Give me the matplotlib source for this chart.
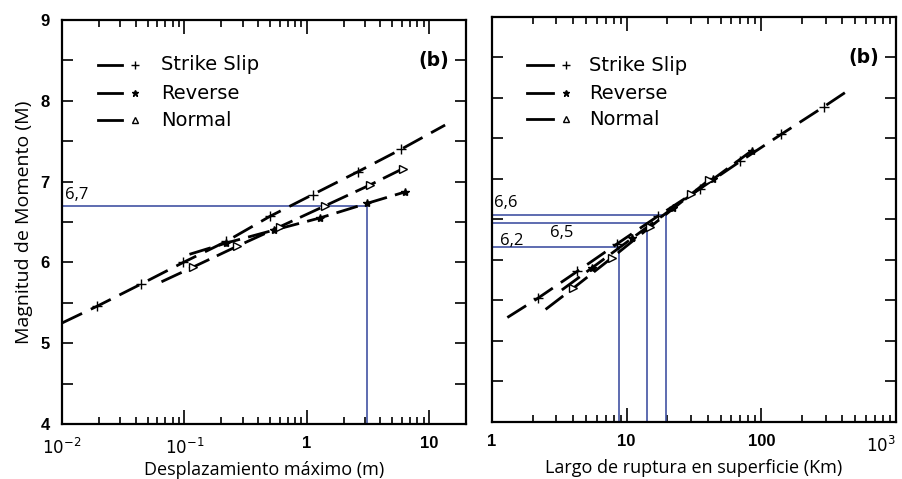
import matplotlib
matplotlib.use("Agg")
import matplotlib.pyplot as plt
from matplotlib.ticker import LogLocator, NullFormatter, FixedLocator

# --- left panel: maximum displacement (m) vs magnitude
md_ss_x = [0.01, 0.0195, 0.044, 0.098, 0.22, 0.5, 1.12, 2.6, 5.9, 13.5]
md_ss_m = [5.25, 5.46, 5.73, 6.0, 6.26, 6.57, 6.84, 7.12, 7.40, 7.70]
md_rv_x = [0.11, 0.22, 0.54, 1.28, 3.1, 6.3]
md_rv_m = [6.10, 6.24, 6.40, 6.55, 6.73, 6.87]
md_nm_x = [0.065, 0.117, 0.27, 0.60, 1.41, 3.3, 6.1]
md_nm_m = [5.76, 5.94, 6.20, 6.44, 6.70, 6.96, 7.16]

# --- right panel: surface rupture length (km) vs magnitude
srl_ss_x = [1.3, 2.2, 4.3, 8.5, 17, 35, 70, 140, 290, 430]
srl_ss_m = [5.29, 5.53, 5.86, 6.20, 6.54, 6.88, 7.22, 7.55, 7.89, 8.08]
srl_rv_x = [3.3, 5.5, 11, 22, 44, 85]
srl_rv_m = [5.63, 5.90, 6.27, 6.64, 7.0, 7.35]
srl_nm_x = [2.5, 4.0, 7.8, 15, 30, 41]
srl_nm_m = [5.39, 5.65, 6.03, 6.41, 6.81, 6.99]

# blue reading lines
left_read_x, left_read_m, left_read_lbl = [3.1], [6.7], ["6,7"]
right_read_x = [19.6, 14.1, 8.8]
right_read_m = [6.55, 6.46, 6.16]
right_read_lbl = ["6,6", "6,5", "6,2"]

legend_names = ["Strike Slip", "Reverse", "Normal"]
left_xticks = [0.01, 0.1, 1, 10]
left_xlabels = [r"$10^{-2}$", r"$10^{-1}$", "1", "10"]
right_xticks = [1, 10, 100, 1000]
right_xlabels = ["1", "10", "100", r"$10^3$"]

BLUE = "#4253a3"
TICKFONT = dict(family="Liberation Sans", weight="bold", size=12)

fig = plt.figure(figsize=(9.02, 4.79), dpi=100)
ax1 = fig.add_axes([62 / 902, 1 - 424 / 479, (466 - 62) / 902, (424 - 20) / 479])
ax2 = fig.add_axes([492 / 902, 1 - 422 / 479, (896 - 492) / 902, (422 - 17) / 479])


def style_axis(ax, xlim, xt, xl, show_y):
    ax.set_xscale("log")
    ax.set_xlim(*xlim)
    ax.set_ylim(4, 9)
    for s in ax.spines.values():
        s.set_linewidth(1.6)
    ax.xaxis.set_major_locator(FixedLocator(xt))
    ax.set_xticklabels(xl, fontdict=TICKFONT)
    ax.xaxis.set_minor_locator(LogLocator(base=10, subs=range(2, 10)))
    ax.xaxis.set_minor_formatter(NullFormatter())
    ax.set_yticks([4, 5, 6, 7, 8, 9])
    ax.set_yticks([4.5, 5.5, 6.5, 7.5, 8.5], minor=True)
    if show_y:
        ax.set_yticklabels(["4", "5", "6", "7", "8", "9"], fontdict=TICKFONT)
    else:
        ax.set_yticklabels([])
    ax.tick_params(which="both", direction="in", top=True, right=True, width=1.2)
    ax.tick_params(axis="x", which="major", length=10, pad=9)
    ax.tick_params(axis="x", which="minor", length=5)
    ax.tick_params(axis="y", which="both", length=8, pad=9)
    ax.text(0.92, 0.9, "(b)", transform=ax.transAxes, fontsize=13.5,
            fontweight="bold", ha="center", va="center")


def draw_series(ax, x, m, marker, ms, dash):
    ax.plot(x, m, color="black", lw=2.0, dashes=dash, zorder=3)
    ax.plot(x[1:-1] if marker == "+" else x[1:], m[1:-1] if marker == "+" else m[1:],
            ls="none", marker=marker, ms=ms, mfc="white" if marker == ">" else "black",
            mec="black", mew=1.0, zorder=4)


def draw_legend(ax, x0, x1, xm, xt, ys):
    for name, y, mk, ms in zip(legend_names, ys, ["+", "*", "^"], [6, 5, 5]):
        ax.plot([x0, x1], [y, y], color="black", lw=2.0, transform=ax.transAxes)
        ax.plot([xm], [y], marker=mk, ms=ms, color="black", mfc="white" if mk == "^" else "black",
                mew=1.0, transform=ax.transAxes)
        ax.text(xt, y, name, transform=ax.transAxes, fontsize=14,
                family="DejaVu Sans", va="center")


# left panel
style_axis(ax1, (0.01, 20), left_xticks, left_xlabels, True)
draw_series(ax1, md_ss_x, md_ss_m, "+", 7, (8, 3.5))
draw_series(ax1, md_rv_x, md_rv_m, "*", 6, (8, 3.0))
draw_series(ax1, md_nm_x, md_nm_m, ">", 6, (8, 3.0))
for xv, mv, lb in zip(left_read_x, left_read_m, left_read_lbl):
    ax1.plot([0.01, xv], [mv, mv], color=BLUE, lw=1.2, zorder=2)
    ax1.plot([xv, xv], [4, mv], color=BLUE, lw=1.2, zorder=2)
    ax1.text(0.0105, mv + 0.03, lb, fontsize=12, family="Open Sans", va="bottom")
draw_legend(ax1, 0.088, 0.148, 0.18, 0.245, [0.889, 0.819, 0.752])
ax1.set_xlabel("Desplazamiento máximo (m)", family="Open Sans", fontsize=13, labelpad=3)
ax1.set_ylabel("Magnitud de Momento (M)", family="Open Sans", fontsize=14, labelpad=5)

# right panel
style_axis(ax2, (1, 1000), right_xticks, right_xlabels, False)
ax2.get_xticklabels()[-1].set_horizontalalignment("right")
draw_series(ax2, srl_ss_x, srl_ss_m, "+", 7, (8, 3.5))
draw_series(ax2, srl_rv_x, srl_rv_m, "*", 6, (8, 3.0))
draw_series(ax2, srl_nm_x, srl_nm_m, ">", 6, (8, 3.0))
for xv, mv in zip(right_read_x, right_read_m):
    ax2.plot([1, xv], [mv, mv], color=BLUE, lw=1.2, zorder=2)
    ax2.plot([xv, xv], [4, mv], color=BLUE, lw=1.2, zorder=2)
ax2.text(1.04, right_read_m[0] + 0.05, right_read_lbl[0], fontsize=12, family="Open Sans", va="bottom")
ax2.text(3.3, right_read_m[1] - 0.03, right_read_lbl[1], fontsize=12, family="Open Sans",
         va="top", ha="center")
ax2.text(1.15, right_read_m[2] - 0.03, right_read_lbl[2], fontsize=12, family="Open Sans", va="bottom")
draw_legend(ax2, 0.087, 0.15, 0.184, 0.241, [0.881, 0.812, 0.748])
ax2.set_xlabel("Largo de ruptura en superficie (Km)", family="Open Sans", fontsize=13, labelpad=3)

fig.savefig("out.png", dpi=100)
